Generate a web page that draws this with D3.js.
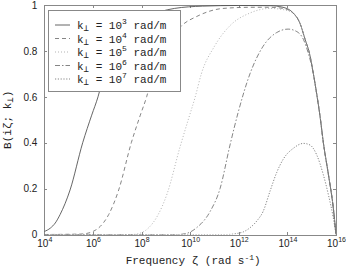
<!DOCTYPE html>
<meta charset="utf-8">
<style>
body { margin: 0; background: #fff; }
svg { font-family: "Liberation Mono", "DejaVu Sans Mono", monospace; }
.axis path, .axis line { fill: none; stroke: #888; stroke-width: 1; shape-rendering: crispEdges; }
.axis text { fill: #222; font-size: 10px; }
.curve { fill: none; stroke-width: 0.9; }
</style>
<body>
<script src="https://cdn.jsdelivr.net/npm/d3@7"></script>
<script>
// plot box in page pixels
var margin = {top: 5, right: 10, bottom: 34.5, left: 44.3},
    W = 346, H = 269,
    width = W - margin.left - margin.right,
    height = H - margin.top - margin.bottom;

// log10 of the frequency and B values, one pair of arrays per curve
var exp1 = [4.0, 4.25, 4.45, 4.65, 5.06, 5.58, 5.95, 6.21, 6.46, 7.0, 7.65, 8.27, 9.35, 10.5, 12.0, 13.29, 13.82, 14.25, 14.52, 14.73, 14.93, 15.07, 15.21, 15.35, 15.48, 15.69, 15.89, 16.0];
var b1   = [0.013, 0.028, 0.05, 0.087, 0.194, 0.40, 0.52, 0.60, 0.70, 0.82, 0.91, 0.95, 0.985, 0.995, 0.998, 0.997, 0.99, 0.964, 0.92, 0.85, 0.78, 0.70, 0.61, 0.51, 0.40, 0.26, 0.115, 0.0];

var exp2 = [4.0, 5.5, 5.8, 6.0, 6.3, 6.65, 7.06, 7.58, 7.95, 8.21, 8.46, 9.0, 9.65, 10.27, 11.35, 12.5, 13.29, 13.82, 14.25, 14.52, 14.73, 14.93, 15.07, 15.21, 15.35, 15.48, 15.69, 15.89, 16.0];
var b2   = [0, 0.002, 0.006, 0.013, 0.035, 0.087, 0.194, 0.40, 0.52, 0.60, 0.70, 0.82, 0.91, 0.95, 0.985, 0.99, 0.99, 0.985, 0.964, 0.92, 0.85, 0.78, 0.70, 0.61, 0.51, 0.40, 0.26, 0.115, 0.0];

var exp3 = [4.0, 7.6, 8.0, 8.3, 8.65, 9.06, 9.58, 9.95, 10.21, 10.46, 11.0, 11.64, 12.46, 13.29, 13.82, 14.25, 14.52, 14.73, 14.93, 15.07, 15.21, 15.35, 15.48, 15.69, 15.89, 16.0];
var b3   = [0, 0, 0.008, 0.03, 0.08, 0.18, 0.38, 0.51, 0.60, 0.70, 0.82, 0.91, 0.965, 0.985, 0.98, 0.962, 0.92, 0.85, 0.78, 0.70, 0.61, 0.51, 0.40, 0.26, 0.115, 0.0];

var exp4 = [4.0, 9.5, 9.86, 10.27, 10.82, 11.23, 11.64, 11.97, 12.46, 13.0, 13.56, 14.03, 14.39, 14.66, 14.86, 15.07, 15.21, 15.35, 15.48, 15.69, 15.89, 16.0];
var b4   = [0, 0, 0.005, 0.03, 0.1, 0.2, 0.39, 0.53, 0.70, 0.82, 0.88, 0.895, 0.884, 0.85, 0.79, 0.70, 0.61, 0.51, 0.40, 0.26, 0.115, 0.0];

var exp5 = [4.0, 11.5, 11.9, 12.2, 12.47, 12.75, 13.0, 13.29, 13.56, 13.84, 14.25, 14.66, 14.93, 15.21, 15.48, 15.69, 15.89, 16.0];
var b5   = [0, 0, 0.004, 0.012, 0.03, 0.06, 0.1, 0.19, 0.27, 0.33, 0.376, 0.397, 0.39, 0.346, 0.26, 0.172, 0.072, 0.0];

var kExps = ["3", "4", "5", "6", "7"];
var xTickExps = [4, 6, 8, 10, 12, 14, 16];
var yTicks = [0, 0.2, 0.4, 0.6, 0.8, 1];

var styles = [
  {dash: null,        color: "#555"},
  {dash: "4,3",       color: "#777"},
  {dash: "1,2",       color: "#aaa"},
  {dash: "5,2,1.5,2", color: "#777"},
  {dash: "1.2,1.6",   color: "#777"}
];

var series = [[exp1, b1], [exp2, b2], [exp3, b3], [exp4, b4], [exp5, b5]].map(function(s, i) {
  return {k: kExps[i], style: styles[i], pts: s[0].map(function(e, j) { return {z: Math.pow(10, e), b: s[1][j]}; })};
});

var x = d3.scaleLog().domain([1e4, 1e16]).range([0, width]);
var y = d3.scaleLinear().domain([0, 1]).range([height, 0]);

var svg = d3.select("body").append("svg")
    .attr("width", W)
    .attr("height", H);
var g = svg.append("g")
    .attr("transform", "translate(" + margin.left + "," + margin.top + ")");

g.append("clipPath").attr("id", "clip")
  .append("rect").attr("width", width).attr("height", height);

// axes, MATLAB style: ticks inside, box all round
var xAx = g.append("g").attr("class", "axis")
    .attr("transform", "translate(0," + height + ")")
    .call(d3.axisBottom(x).tickValues(xTickExps.map(function(e) { return Math.pow(10, e); }))
      .tickSize(-3).tickPadding(6).tickFormat(""));
xAx.selectAll(".tick").append("text")
    .attr("y", 12.5)
    .attr("fill", "#222")
    .attr("text-anchor", "middle")
    .style("font-size", "10px")
    .each(function(d, i) {
      var t = d3.select(this);
      t.append("tspan").text("10");
      t.append("tspan").attr("dy", -5).style("font-size", "7px").text(xTickExps[i]);
    });

g.append("g").attr("class", "axis")
    .call(d3.axisTop(x).tickValues(xTickExps.map(function(e) { return Math.pow(10, e); }))
      .tickSize(-3).tickFormat(""));

g.append("g").attr("class", "axis")
    .call(d3.axisLeft(y).tickValues(yTicks).tickSize(-3).tickPadding(7)
      .tickFormat(function(d) { return d === 0 || d === 1 ? d : d.toFixed(1); }));

g.append("g").attr("class", "axis")
    .attr("transform", "translate(" + width + ",0)")
    .call(d3.axisRight(y).tickValues(yTicks).tickSize(-3).tickFormat(""));

// curves
var line = d3.line()
    .x(function(d) { return x(d.z); })
    .y(function(d) { return y(d.b); })
    .curve(d3.curveMonotoneX);

g.append("g").attr("clip-path", "url(#clip)")
  .selectAll("path").data(series).enter().append("path")
    .attr("class", "curve")
    .attr("d", function(d) { return line(d.pts); })
    .attr("stroke", function(d) { return d.style.color; })
    .attr("stroke-dasharray", function(d) { return d.style.dash; });

// legend
var lg = g.append("g").attr("transform", "translate(3.7,5)");
lg.append("rect")
    .attr("width", 132).attr("height", 81)
    .attr("fill", "#fff").attr("stroke", "#888").attr("stroke-width", 1)
    .style("shape-rendering", "crispEdges");
var row = lg.selectAll(".row").data(series).enter().append("g")
    .attr("transform", function(d, i) { return "translate(0," + (15 + i * 13.5) + ")"; });
row.append("line")
    .attr("x1", 7).attr("x2", 22)
    .attr("stroke", function(d) { return d.style.color; })
    .attr("stroke-width", 0.9)
    .attr("stroke-dasharray", function(d) { return d.style.dash; });
var lt = row.append("text")
    .attr("x", 29).attr("y", 4)
    .attr("fill", "#222")
    .style("font-size", "11px");
lt.append("tspan").text("k");
lt.append("tspan").attr("dy", 2).style("font-size", "9px").text("\u22a5");
lt.append("tspan").attr("dy", -2).text(" = 10");
lt.append("tspan").attr("dy", -5).style("font-size", "8px").text(function(d) { return d.k; });
lt.append("tspan").attr("dy", 5).text(" rad/m");

// axis titles
var xl = svg.append("text")
    .attr("x", margin.left + width / 2 + 3)
    .attr("y", 264)
    .attr("text-anchor", "middle")
    .attr("fill", "#222")
    .style("font-size", "11px");
xl.append("tspan").text("Frequency \u03b6 (rad s");
xl.append("tspan").attr("dy", -4).style("font-size", "8px").text("-1");
xl.append("tspan").attr("dy", 4).text(")");

var yl = svg.append("text")
    .attr("transform", "translate(11," + (margin.top + height / 2) + ") rotate(-90)")
    .attr("text-anchor", "middle")
    .attr("fill", "#222")
    .style("font-size", "11px");
yl.append("tspan").text("B(i\u03b6; k");
yl.append("tspan").attr("dy", 2).style("font-size", "9px").text("\u22a5");
yl.append("tspan").attr("dy", -2).text(")");
</script>
</body>
